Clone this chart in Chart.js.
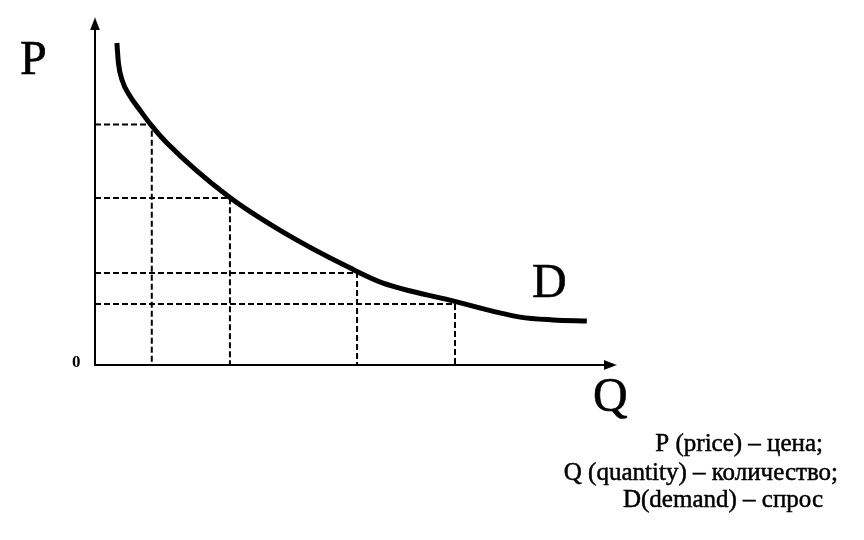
<!DOCTYPE html>
<html>
<head>
<meta charset="utf-8">
<script src="https://cdn.jsdelivr.net/npm/chart.js@4/dist/chart.umd.min.js"></script>
<style>
  html, body { margin: 0; padding: 0; background: #ffffff; }
  #wrap { width: 864px; height: 540px; position: relative; }
</style>
</head>
<body>
<div id="wrap"><canvas id="c" width="864" height="540"></canvas></div>
<script>
// Demand curve D: quantity (Q) and price (P), arbitrary units 0..100
const qCurve = [4.2, 4.5, 5.2, 6.7, 8.6, 10.9, 13.8, 25.5, 36.1, 48.9, 55.3, 68.1, 81.6, 87.9, 94.4];
const pCurve = [92.8, 87.0, 82.1, 77.5, 73.5, 68.9, 64.0, 48.7, 38.3, 28.0, 23.6, 18.7, 13.8, 13.0, 12.7];

// Marked points on the curve (dashed projections to the axes)
const qMarks = [10.9, 25.9, 50.3, 69.1];
const pMarks = [69.3, 48.1, 26.5, 17.6];

// Axis extents
const qAxisEnd = 98.0;
const pAxisEnd = 97.0;
const qArrow = 98.9;
const pArrow = 98.3;

// Text labels
const axisLabelP = "P";
const axisLabelQ = "Q";
const curveLabel = "D";
const originLabel = "0";
const notes = ["P (price) \u2013 цена;", "Q (quantity) \u2013 количество;", "D(demand) \u2013 спрос"];

// arrow head image
function makeArrow() {
  const cv = document.createElement('canvas');
  cv.width = 10; cv.height = 13;
  const g = cv.getContext('2d');
  g.fillStyle = '#000';
  g.beginPath();
  g.moveTo(5, 0);
  g.lineTo(10, 13);
  g.lineTo(0, 13);
  g.closePath();
  g.fill();
  return cv;
}
const arrowImg = makeArrow();

const datasets = [];
datasets.push({
  label: 'D',
  data: qCurve.map((q, i) => ({x: q, y: pCurve[i]})),
  showLine: true,
  borderColor: '#000',
  borderWidth: 5,
  pointRadius: 0,
  cubicInterpolationMode: 'monotone',
  fill: false,
  clip: false,
  order: 0
});
qMarks.forEach((q, i) => {
  datasets.push({
    label: 'guide' + i,
    data: [{x: 0, y: pMarks[i]}, {x: q, y: pMarks[i]}, {x: q, y: 0}],
    showLine: true,
    borderColor: '#000',
    borderWidth: 2,
    borderDash: [6, 3],
    pointRadius: 0,
    tension: 0,
    fill: false,
    clip: false,
    order: 2
  });
});
datasets.push({
  label: 'axes',
  data: [{x: 0, y: pAxisEnd}, {x: 0, y: 0}, {x: qAxisEnd, y: 0}],
  showLine: true,
  borderColor: '#000',
  borderWidth: 2,
  pointRadius: 0,
  tension: 0,
  fill: false,
  clip: false,
  order: 1
});
datasets.push({
  label: 'arrowP',
  data: [{x: 0, y: pArrow}],
  showLine: false,
  pointStyle: arrowImg,
  pointRadius: 6,
  rotation: 0,
  clip: false
});
datasets.push({
  label: 'arrowQ',
  data: [{x: qArrow, y: 0}],
  showLine: false,
  pointStyle: arrowImg,
  pointRadius: 6,
  rotation: 90,
  clip: false
});

function heavyText(ctx, s, x, y, w) {
  ctx.fillText(s, x, y);
  ctx.lineWidth = w;
  ctx.strokeText(s, x, y);
}

const textPlugin = {
  id: 'texts',
  afterDatasetsDraw(chart) {
    const ctx = chart.ctx;
    ctx.save();
    ctx.fillStyle = '#000';
    ctx.strokeStyle = '#000';
    ctx.textBaseline = 'alphabetic';
    ctx.textAlign = 'left';
    ctx.font = '48px "Liberation Serif", "Times New Roman", serif';
    heavyText(ctx, axisLabelP, 20, 74, 0.6);
    heavyText(ctx, curveLabel, 532, 297, 0.6);
    heavyText(ctx, axisLabelQ, 593, 411, 0.6);
    ctx.font = 'bold 17px "Liberation Serif", serif';
    ctx.fillText(originLabel, 72, 367);
    ctx.font = '25px "Liberation Serif", "Times New Roman", serif';
    ctx.textAlign = 'right';
    heavyText(ctx, notes[0], 823, 451, 0.5);
    heavyText(ctx, notes[1], 838, 480, 0.5);
    heavyText(ctx, notes[2], 823, 507, 0.5);
    ctx.restore();
  }
};

new Chart(document.getElementById('c'), {
  type: 'scatter',
  data: { datasets },
  options: {
    responsive: false,
    animation: false,
    events: [],
    layout: { padding: { left: 95, right: 248, top: 18, bottom: 175 } },
    plugins: { legend: { display: false }, tooltip: { enabled: false }, title: { display: false } },
    scales: {
      x: { type: 'linear', min: 0, max: 100, display: false },
      y: { type: 'linear', min: 0, max: 100, display: false }
    }
  },
  plugins: [textPlugin]
});
</script>
</body>
</html>
